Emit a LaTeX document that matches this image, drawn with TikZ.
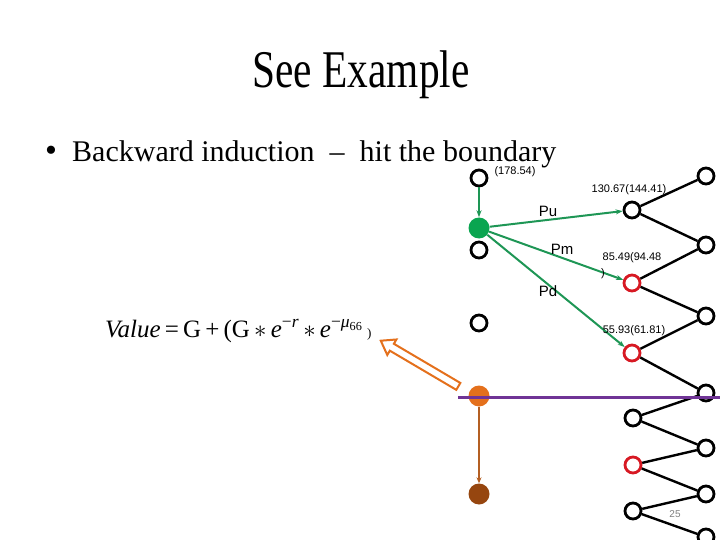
\documentclass[tikz,border=0pt]{standalone}
\usepackage{fontspec}
\setmainfont{Liberation Serif}
\newfontfamily\labelsans{Liberation Sans}
\usetikzlibrary{arrows.meta,shapes.arrows}
\definecolor{treeGreen}{RGB}{30,150,85}
\definecolor{fillGreen}{RGB}{10,165,80}
\definecolor{nodeRed}{RGB}{215,25,35}
\definecolor{hitOrange}{RGB}{228,112,28}
\definecolor{deepBrown}{RGB}{150,70,15}
\definecolor{stemBrown}{RGB}{180,95,35}
\definecolor{cutPurple}{RGB}{112,52,150}

\begin{document}
\begin{tikzpicture}[x=1pt,y=-1pt,
  nd/.style={circle,draw=black,line width=2.8pt,minimum size=16pt,inner sep=0pt,fill=white},
  redn/.style={nd,draw=nodeRed},
  dot/.style={circle,minimum size=21pt,inner sep=0pt},
  edge/.style={line width=2.4pt,draw=black},
  gar/.style={-{Stealth[length=7pt,width=5pt]},line width=2pt,draw=treeGreen},
  val/.style={font=\labelsans\fontsize{11}{12}\selectfont,inner sep=1pt},
  prob/.style={font=\labelsans\fontsize{15}{16}\selectfont,inner sep=1pt}
]
\useasboundingbox (0,0) rectangle (720,540);

%%%%%%%%%%%%%%%%%%%%%% title and bullet %%%%%%%%%%%%%%%%%%%%%%%%%
\node[anchor=base,font=\fontsize{53}{56}\selectfont,inner sep=0pt] (title) at (361,88)
  {\scalebox{0.78}[1]{See Example}};
\node[anchor=base,font=\fontsize{34}{36}\selectfont] (bul) at (51,162) {•};
\node[anchor=base west,font=\fontsize{30}{32}\selectfont,inner sep=0pt] (line1) at (72,162)
  {Backward induction \ – \ hit the boundary};

%%%%%%%%%%%%%%%%%%%%%% formula %%%%%%%%%%%%%%%%%%%%%%%%%%%%%%%%%%
\node[anchor=base west,font=\fontsize{25}{28}\selectfont,inner sep=0pt] (vf) at (105,337)
  {\textit{Value}\,=\,G\,+\,(G\,$\ast$\,\textit{e}\textsuperscript{−\textit{r}}\,$\ast$\,%
   \textit{e}\textsuperscript{−\textit{μ}\textsubscript{66}}\,{\fontsize{13}{13}\selectfont)}};

%%%%%%%%%%%%%%%%%%%%%% tree %%%%%%%%%%%%%%%%%%%%%%%%%%%%%%%%%%%%%
\foreach \y [count=\i] in {176,245,316,393,448,494,537}
  \node[nd] (r\i) at (706,\y) {};

\node[nd]   (m1) at (632,210) {};
\node[redn] (m2) at (632,283) {};
\node[redn] (m3) at (632,353) {};
\node[nd]   (m4) at (633,418) {};
\node[redn] (m5) at (633,465) {};
\node[nd]   (m6) at (633,511) {};

\foreach \i [evaluate=\i as \j using int(\i+1)] in {1,...,6}
  \draw[edge] (r\i) -- (m\i) -- (r\j);

\node[nd]  (b0) at (479,178) {};
\node[dot,fill=fillGreen] (g) at (479,228) {};
\node[nd]  (l1) at (479,250) {};
\node[nd]  (l2) at (479,323) {};
\node[dot,fill=hitOrange] (o) at (479,396) {};
\node[dot,fill=deepBrown] (br) at (479,494) {};

%%%%%%%%%%%%%%%%%%%%%% green branches %%%%%%%%%%%%%%%%%%%%%%%%%%%
\draw[gar] (b0) -- (g);
\draw[gar] (g) -- (m1);
\draw[gar] (g) -- (m2);
\draw[gar] (g) -- (m3);

\node[prob] (pu) at (548,211) {Pu};
\node[prob] (pm) at (562,249) {Pm};
\node[prob] (pd) at (548,291) {Pd};

\node[val] (v0) at (515,172) {(178.54)};
\node[val] (v1) at (629,190) {130.67(144.41)};
\node[val] (v2) at (632,258) {85.49(94.48};
\node[val] (v2b) at (603,274) {)};
\node[val] (v3) at (634,331) {55.93(61.81)};

%%%%%%%%%%%%%%%%%%%%%% boundary %%%%%%%%%%%%%%%%%%%%%%%%%%%%%%%%%
\draw[line width=2pt,draw=stemBrown,-{Stealth[length=6pt,width=5pt]}] (o) -- (br);
\node[single arrow,draw=hitOrange,fill=white,line width=2pt,minimum height=90pt,
      minimum width=0pt,inner sep=3pt,single arrow head extend=5pt,
      single arrow tip angle=70,rotate=149.5] (hint) at (422,365) {};
\coordinate (cutL) at (458,397);
\coordinate (cutR) at (720,397);
\draw[line width=3pt,draw=cutPurple] (cutL) -- (cutR);

\node[font=\labelsans\fontsize{10}{11}\selectfont,text=gray] (pg) at (675,514) {25};
\end{tikzpicture}
\end{document}
